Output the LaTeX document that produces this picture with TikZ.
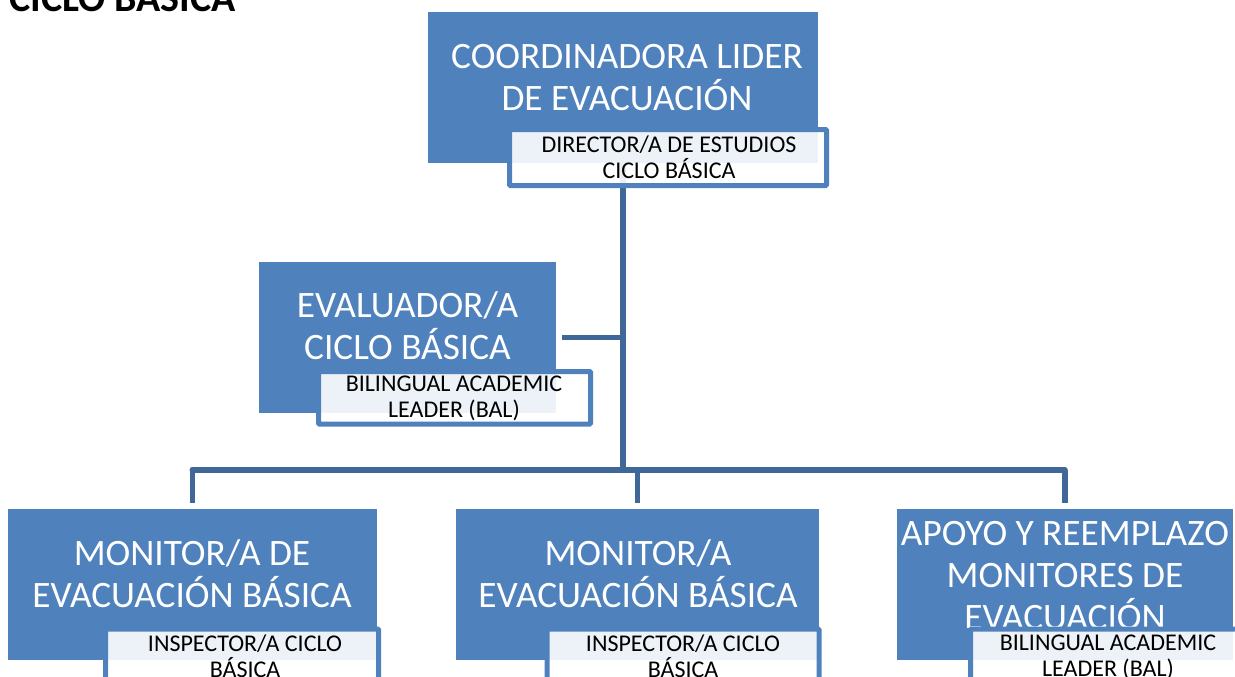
\documentclass[tikz,border=0pt]{standalone}
\usepackage{fontspec}
\setmainfont{Carlito}
\definecolor{boxblue}{HTML}{4F81BD}
\definecolor{linkblue}{HTML}{3F6797}
\tikzset{
  x=1pt,y=-1pt,
  mainbox/.style={fill=boxblue,draw=none,inner sep=0pt,outer sep=0pt},
  subbox/.style={fill=white,fill opacity=.9,draw=boxblue,draw opacity=1,line width=5pt,rounded corners=1pt,inner sep=0pt,outer sep=0pt},
  maintext/.style={text=white,align=center,inner sep=0pt,font=\fontsize{37.3}{42}\selectfont},
  subtext/.style={text=black,align=center,inner sep=0pt,font=\fontsize{24}{26}\selectfont},
  link/.style={draw=linkblue,line width=5.5pt}
}
\begin{document}
\begin{tikzpicture}
\useasboundingbox (0,0) rectangle (1235,677);
\clip (0,0) rectangle (1235,677);
\node[anchor=base west,inner sep=0pt,font=\bfseries\fontsize{40}{44}\selectfont] (title) at (9,12) {CICLO BÁSICA};
% main boxes
\node[mainbox,minimum width=390.5pt,minimum height=151pt] (top) at (622.75,87.5) {};
\node[mainbox,minimum width=297.5pt,minimum height=151pt] (eval) at (407.25,337.5) {};
\node[mainbox,minimum width=369.5pt,minimum height=151pt] (m1) at (192.25,584.5) {};
\node[mainbox,minimum width=363pt,minimum height=151pt] (m2) at (637.5,584.5) {};
\node[mainbox,minimum width=336pt,minimum height=151pt] (m3) at (1065,584.5) {};
% connectors
\coordinate (j) at (622.75,470);
\draw[link] (top.south) -- (j);
\draw[link,shorten <=6pt] (eval.east) -- (eval.east -| j);
\draw[link,line cap=round] (m1.north |- j) -- (m3.north |- j);
\draw[link,shorten >=6pt] (m1.north |- j) -- (m1.north);
\draw[link,shorten >=6pt] (m2.north |- j) -- (m2.north);
\draw[link,shorten >=6pt] (m3.north |- j) -- (m3.north);
% main text
\node[maintext] (ttop) at (627,78) {COORDINADORA LIDER\\DE EVACUACIÓN};
\node[maintext] (teval) at (407.5,326) {EVALUADOR/A\\CICLO BÁSICA};
\node[maintext] (tm1) at (192,574) {MONITOR/A DE\\EVACUACIÓN BÁSICA};
\node[maintext] (tm2) at (638,574) {MONITOR/A\\EVACUACIÓN BÁSICA};
\begin{scope}
\clip (897,509) rectangle (1235,627);
\node[maintext] (tm3) at (1065,576) {APOYO Y REEMPLAZO\\MONITORES DE\\EVACUACIÓN};
\end{scope}
% sub boxes
\node[subbox,minimum width=317pt,minimum height=56pt] (stop) at (668,157.5) {};
\node[subbox,minimum width=272pt,minimum height=52.5pt] (seval) at (454.5,397.75) {};
\node[subbox,minimum width=273pt,minimum height=80pt] (sm1) at (242,669) {};
\node[subbox,minimum width=272pt,minimum height=80pt] (sm2) at (683,669) {};
\node[subbox,minimum width=273pt,minimum height=80pt] (sm3) at (1107,669) {};
% sub text
\node[subtext] (tstop) at (669,157.5) {DIRECTOR/A DE ESTUDIOS\\CICLO BÁSICA};
\node[subtext] (tseval) at (454,398) {BILINGUAL ACADEMIC\\LEADER (BAL)};
\node[subtext] (tsm1) at (245,656) {INSPECTOR/A CICLO\\BÁSICA};
\node[subtext] (tsm2) at (683,656) {INSPECTOR/A CICLO\\BÁSICA};
\node[subtext] (tsm3) at (1108,657) {BILINGUAL ACADEMIC\\LEADER (BAL)};
\end{tikzpicture}
\end{document}
